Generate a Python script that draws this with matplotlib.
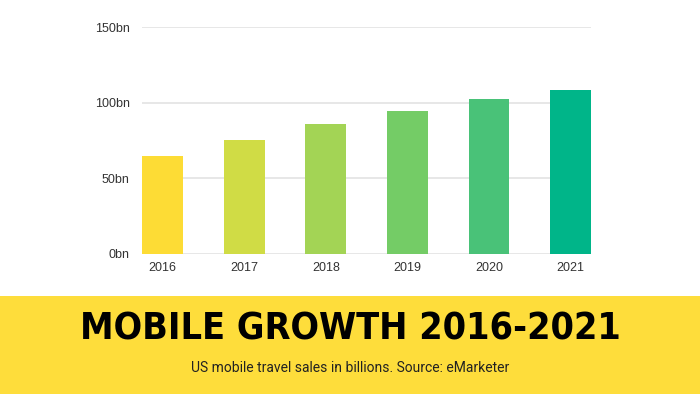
import matplotlib.pyplot as plt
from matplotlib.patches import Rectangle

years = ['2016', '2017', '2018', '2019', '2020', '2021']
sales_bn = [65, 75.5, 86, 94.6, 102.3, 108.5]
bar_colors = ['#FDDC35', '#D0DC45', '#A3D455', '#74CC66', '#49C278', '#00B589']
y_ticks = [0, 50, 100, 150]
y_tick_labels = ['0bn', '50bn', '100bn', '150bn']

title = 'MOBILE GROWTH 2016-2021'
subtitle = 'US mobile travel sales in billions. Source: eMarketer'

fig = plt.figure(figsize=(7, 3.94), dpi=100)
fig.patch.set_facecolor('white')

# yellow banner at the bottom
fig.patches.append(Rectangle((0, 0), 1, 1 - 296 / 394, transform=fig.transFigure,
                             facecolor='#FEDD3B', edgecolor='none', zorder=0))

ax = fig.add_axes([142.3 / 700, 1 - 254 / 394, (591 - 142.3) / 700, (254 - 27.3) / 394])
x = range(len(years))
ax.bar(x, sales_bn, width=0.5, color=bar_colors, zorder=2)
ax.set_xlim(-0.25, len(years) - 0.75)
ax.set_ylim(0, 150)
ax.set_yticks(y_ticks)
ax.set_yticklabels(y_tick_labels)
ax.set_xticks(list(x))
ax.set_xticklabels(years)
ax.yaxis.grid(True, color='#E3E3E3', linewidth=1.2, zorder=0)
for s in ax.spines.values():
    s.set_visible(False)
ax.tick_params(length=0, labelsize=9, labelcolor='#333333')
ax.tick_params(axis='y', pad=9)
ax.tick_params(axis='x', pad=6)
for lab in ax.get_xticklabels() + ax.get_yticklabels():
    lab.set_family('Liberation Sans')

fig.text(0.5, 1 - 329 / 394, title, ha='center', va='center', fontsize=27,
         fontweight='heavy', family='DejaVu Sans', fontstretch='condensed', color='black')
fig.text(0.5, 1 - 368 / 394, subtitle, ha='center', va='center', fontsize=10,
         family='Roboto', color='#222222')

fig.savefig('out.png', dpi=100)
